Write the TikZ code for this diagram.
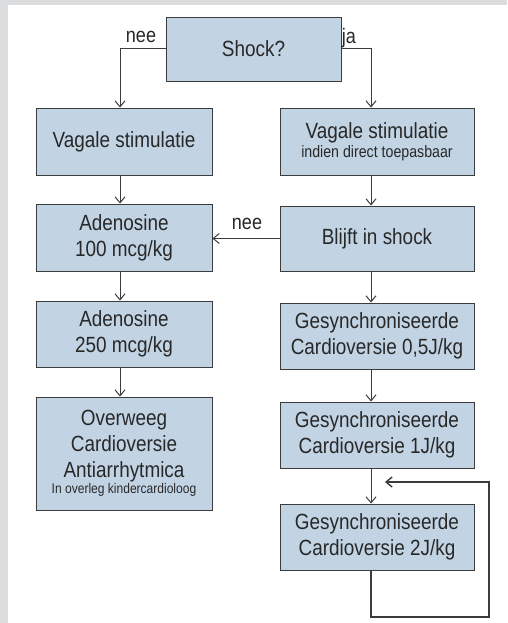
\documentclass[tikz,border=0pt]{standalone}
\usepackage{fontspec}
\setmainfont[FakeStretch=0.86]{Liberation Sans}
\usetikzlibrary{arrows.meta,shadows}
\definecolor{boxfill}{RGB}{194,212,228}
\definecolor{bgray}{RGB}{220,221,223}
\definecolor{ink}{RGB}{40,40,40}
\definecolor{linec}{RGB}{60,60,60}
\begin{document}
\begin{tikzpicture}[x=1pt,y=-1pt,
  box/.style={draw=linec, line width=0.9pt, fill=boxfill, text=ink, align=center,
    inner sep=0pt, font=\fontsize{22}{26}\selectfont,
    drop shadow={shadow xshift=1.3pt, shadow yshift=-1.3pt, opacity=1, fill=black!70}},
  lcol/.style={minimum width=176pt},
  rcol/.style={minimum width=194pt},
  conn/.style={draw=linec, line width=1pt, -{Straight Barb[length=6pt,width=10pt]}},
  lbl/.style={text=ink, font=\fontsize{21}{22}\selectfont, inner sep=0pt}]
\fill[bgray] (0,0) rectangle (507,623);
\fill[white] (8,5) rectangle (507,623);
\useasboundingbox (0,0) rectangle (507,623);

\coordinate (lx) at (120,0);
\coordinate (rx) at (371,0);

\node[box, minimum width=175pt, minimum height=64pt] (shock) at (253.5,49) {Shock?};
\node[box, lcol, minimum height=67pt] (vl) at (124,141.5) {Vagale stimulatie};
\node[box, rcol, minimum height=67pt] (vr) at (377,141.5) {Vagale stimulatie\\[-7.5pt]\fontsize{16.5}{26}\selectfont indien direct toepasbaar};
\node[box, lcol, minimum height=67pt] (ad1) at (124,237.5) {Adenosine\\100 mcg/kg};
\node[box, rcol, minimum height=65pt] (bs) at (377,238.5) {Blijft in shock};
\node[box, lcol, minimum height=66pt] (ad2) at (124,334) {Adenosine\\250 mcg/kg};
\node[box, rcol, minimum height=66pt] (g05) at (377,336) {Gesynchroniseerde\\Cardioversie 0,5J/kg};
\node[box, lcol, minimum height=113pt] (ov) at (124,453.5) {Overweeg\\Cardioversie\\Antiarrhytmica\\[-10pt]\fontsize{14}{26}\selectfont In overleg kindercardioloog};
\node[box, rcol, minimum height=66pt] (g1) at (377,435) {Gesynchroniseerde\\Cardioversie 1J/kg};
\node[box, rcol, minimum height=66pt] (g2) at (377,537) {Gesynchroniseerde\\Cardioversie 2J/kg};

\draw[conn] (shock.west) -| (vl.north -| lx);
\draw[conn] (shock.east) -| (vr.north -| rx);
\node[lbl] (neeA) at (141,37) {nee};
\node[lbl] (jaA) at (349,38) {ja};

\draw[conn] (vl.south -| lx) -- (ad1.north -| lx);
\draw[conn] (ad1.south -| lx) -- (ad2.north -| lx);
\draw[conn] (ad2.south -| lx) -- (ov.north -| lx);

\draw[conn] (vr.south -| rx) -- (bs.north -| rx);
\draw[conn] (bs.west) -- (ad1.east |- bs.west);
\node[lbl] (neeB) at (247,224) {nee};
\draw[conn] (bs.south -| rx) -- (g05.north -| rx);
\draw[conn] (g05.south -| rx) -- (g1.north -| rx);
\draw[conn] (g1.south -| rx) -- (g2.north -| rx);

\coordinate (l1) at (371,617);
\coordinate (l2) at (489,617);
\coordinate (l3) at (489,482);
\coordinate (l4) at (385,482);
\draw[conn, line width=1.4pt] (g2.south -| rx) -- (l1) -- (l2) -- (l3) -- (l4);
\end{tikzpicture}
\end{document}
